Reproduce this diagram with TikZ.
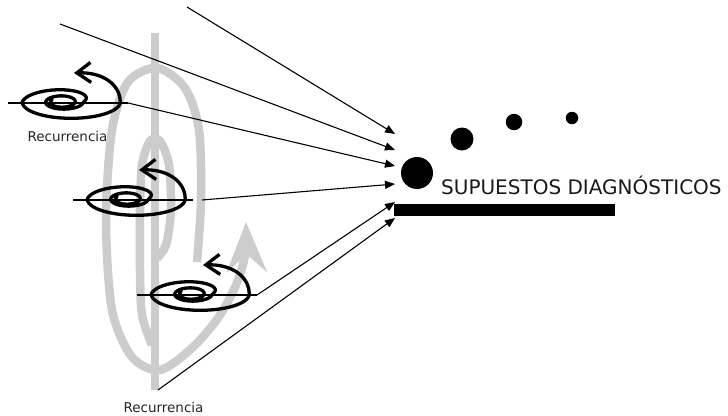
\documentclass[tikz,border=0pt]{standalone}
\usepackage{fontspec}
\newfontfamily\labelfont{DejaVu Sans}
\usetikzlibrary{arrows.meta}

\tikzset{
  declare function={
    sa(\t)=7+13*min(\t,720)/720+29*min(max(\t-720,0),180)/180;
  },
  grayline/.style={line width=8.5pt, draw=gray!40, line cap=butt, line join=round},
  spiralline/.style={line width=3.3pt, draw=black, line join=round, line cap=round},
  feed/.style={line width=1.1pt, -{Triangle[length=10pt,width=8pt]}},
  lbl/.style={font=\labelfont\fontsize{13.5}{16}\selectfont, text=black!85, inner sep=0pt},
  dot/.style={circle, fill=black, inner sep=0pt},
  % one small black spiral with its axis line and curled arrow
  recspiral/.pic={
    \draw[line width=2.6pt] (8,103) -- (128,103);
    \draw[spiralline, -{Straight Barb[length=14pt,width=20pt]}]
      plot[domain=150:1080, samples=160, smooth]
        ({58+0.27*sa(\x)+sa(\x)*cos(\x)}, {102-(0.3*sa(\x)+1.6)*sin(\x)})
      .. controls (120.2,84) and (102,72) .. (74,73);
    \coordinate (-end) at (128,103);
  }
}

\begin{document}
\begin{tikzpicture}[x=1pt,y=-1pt]
  \useasboundingbox (0,0) rectangle (728,415);

  % large gray spiral behind everything
  \draw[grayline] (155,33) -- (155,390);
  \draw[grayline] plot[smooth] coordinates {
    (157,258) (166,245) (171,210) (169,165) (160,141) (150,141)
    (142,165) (140,210) (140,270) (142,315) (152,345)};
  \draw[grayline, -{Stealth[length=50pt,width=40pt,inset=18pt]}] plot[smooth] coordinates {
    (197,262) (201,200) (199,130) (185,88) (157,68) (128,82) (112,130)
    (106,220) (112,310) (132,357) (160,370) (192,348) (218,318)
    (236,285) (245,255) (246,222)};

  % free ends and arrow targets of the converging lines
  \coordinate (src1) at (187,7);
  \coordinate (src2) at (60,24);
  \coordinate (src6) at (158,390);
  \coordinate (t1) at (395,134);
  \coordinate (t2) at (395,150);
  \coordinate (t3) at (395,166);
  \coordinate (t4) at (395,184);
  \coordinate (t5) at (395,202);
  \coordinate (t6) at (395,218);

  % three recurrence spirals
  \pic (s1) at (0,0) {recspiral};
  \pic (s2) at (65,97) {recspiral};
  \pic (s3) at (129,192) {recspiral};

  % converging lines
  \draw[feed] (src1) -- (t1);
  \draw[feed] (src2) -- (t2);
  \draw[feed] (s1-end) -- (t3);
  \draw[feed] ([xshift=9pt]s2-end) -- (t4);
  \draw[feed] (s3-end) -- (t5);
  \draw[feed] (src6) -- (t6);

  % labels
  \node[lbl, anchor=base] (rec1) at (67.5,141) {Recurrencia};
  \node[lbl, anchor=base] (rec2) at (163.5,412) {Recurrencia};

  % growing dots and the diagnosis bar
  \node[dot, minimum size=32pt] (d1) at (417,173) {};
  \node[dot, minimum size=23pt] (d2) at (462,139) {};
  \node[dot, minimum size=16.5pt] (d3) at (514,122) {};
  \node[dot, minimum size=12.5pt] (d4) at (572,118) {};
  \node[fill=black, minimum width=221pt, minimum height=12pt, inner sep=0pt,
        anchor=north west] (bar) at (394,204) {};
  \node[anchor=base west, inner sep=0pt, text=black!90,
        font=\labelfont\fontsize{20}{24}\selectfont] (title) at (441,194)
        {SUPUESTOS DIAGNÓSTICOS};
\end{tikzpicture}
\end{document}
